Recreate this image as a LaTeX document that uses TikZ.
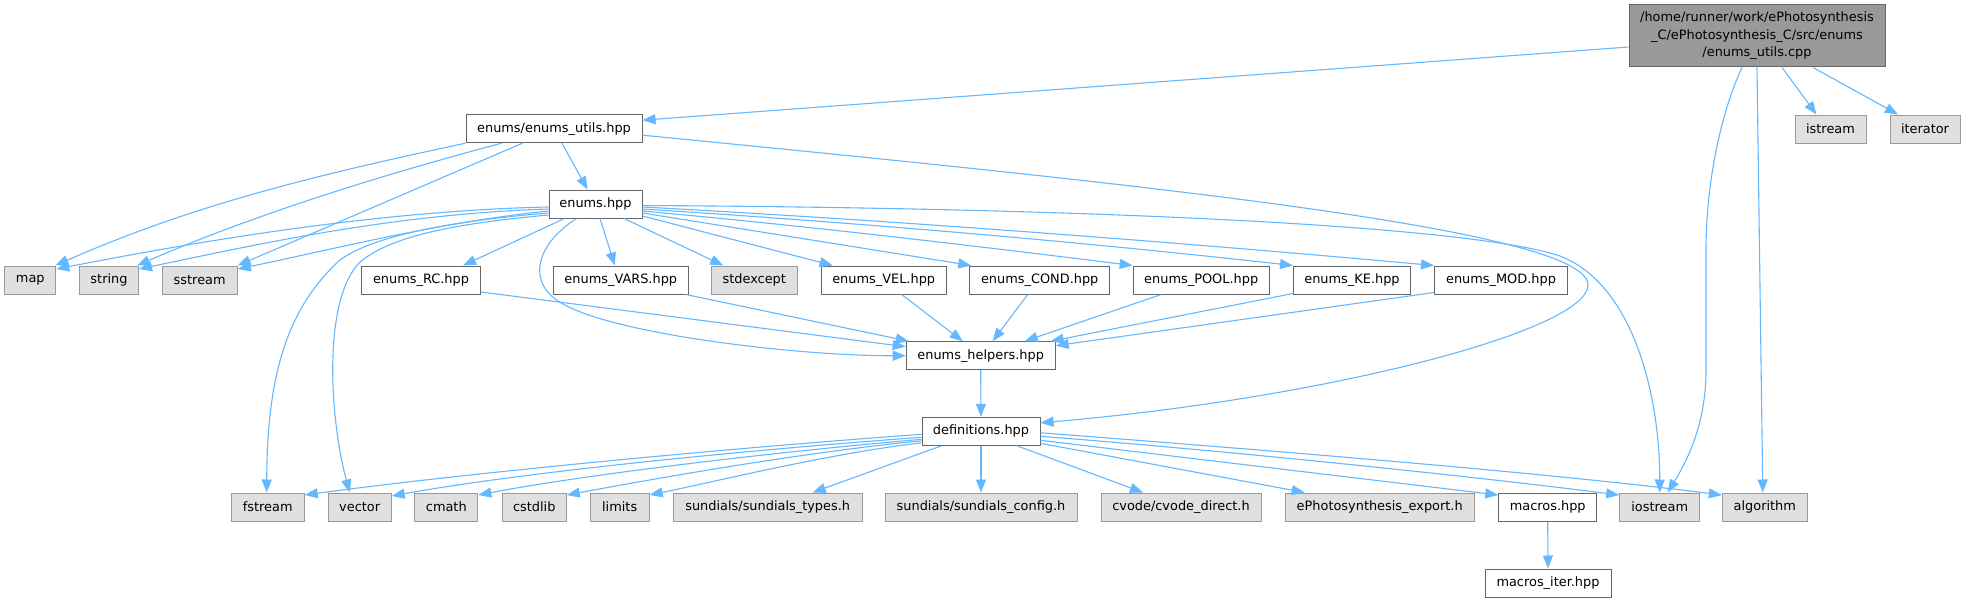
\documentclass[tikz,border=0pt]{standalone}
\usepackage{fontspec}
\setmainfont{DejaVu Sans}
\usetikzlibrary{arrows.meta,calc}
\definecolor{eblue}{HTML}{63B8FF}
\definecolor{gfill}{HTML}{E0E0E0}
\definecolor{gborder}{HTML}{999999}
\definecolor{wborder}{HTML}{666666}
\definecolor{mfill}{HTML}{999999}
\tikzset{
  base/.style={rectangle, inner sep=0pt, minimum height=28pt, line width=1pt,
    font=\fontsize{12.9}{17.5}\selectfont, text=black},
  wbox/.style={base, draw=wborder, fill=white, minimum width=#1},
  gbox/.style={base, draw=gborder, fill=gfill, minimum width=#1},
  mainbox/.style={base, draw=wborder, fill=mfill, minimum width=256pt, minimum height=62pt, align=center},
  dep/.style={draw=eblue, line width=1.1pt, -{Triangle[length=13pt,width=10pt]}}
}
\begin{document}
\begin{tikzpicture}[x=1pt,y=-1pt]
\fill[white] (0,0) rectangle (1965,602);
\useasboundingbox (0,0) rectangle (1965,602);

% nodes
\node[mainbox] (main) at (1757,36) {/home/runner/work/ePhotosynthesis\\\_C/ePhotosynthesis\_C/src/enums\\/enums\_utils.cpp};
\node[wbox=176pt] (utils) at (554,128.7) {enums/enums\_utils.hpp};
\node[gbox=71pt] (istream) at (1830.5,129) {istream};
\node[gbox=70pt] (iterator) at (1925,129) {iterator};
\node[wbox=93pt] (enums) at (595.5,204) {enums.hpp};
\node[gbox=51pt] (map) at (30.3,280) {map};
\node[gbox=59pt] (string) at (109,280) {string};
\node[gbox=75pt] (sstream) at (199.7,280) {sstream};
\node[wbox=119pt] (RC) at (421,280) {enums\_RC.hpp};
\node[wbox=135pt] (VARS) at (620.8,280) {enums\_VARS.hpp};
\node[gbox=86pt] (stdexcept) at (754.3,280) {stdexcept};
\node[wbox=125pt] (VEL) at (883.7,280) {enums\_VEL.hpp};
\node[wbox=140pt] (COND) at (1039.7,280) {enums\_COND.hpp};
\node[wbox=136pt] (POOL) at (1201.2,280) {enums\_POOL.hpp};
\node[wbox=117pt] (KE) at (1352,280) {enums\_KE.hpp};
\node[wbox=133pt] (MOD) at (1501,280) {enums\_MOD.hpp};
\node[wbox=149pt] (helpers) at (980.7,355.7) {enums\_helpers.hpp};
\node[wbox=118pt] (definitions) at (981,431.3) {definitions.hpp};
\node[gbox=73pt] (fstream) at (267.7,507) {fstream};
\node[gbox=63pt] (vector) at (359.7,507) {vector};
\node[gbox=63pt] (cmath) at (446.3,507) {cmath};
\node[gbox=64pt] (cstdlib) at (534.3,507) {cstdlib};
\node[gbox=59pt] (limits) at (619.7,507) {limits};
\node[gbox=189pt] (sundtypes) at (767.7,507) {sundials/sundials\_types.h};
\node[gbox=192pt] (sundconf) at (981,507) {sundials/sundials\_config.h};
\node[gbox=160pt] (cvode) at (1181,507) {cvode/cvode\_direct.h};
\node[gbox=189pt] (export) at (1379.7,507) {ePhotosynthesis\_export.h};
\node[wbox=98pt] (macros) at (1547.7,507) {macros.hpp};
\node[gbox=80pt] (iostream) at (1659.7,507) {iostream};
\node[gbox=85pt] (algorithm) at (1764.8,507) {algorithm};
\node[wbox=126pt] (macrositer) at (1548,583) {macros\_iter.hpp};

% main file
\draw[dep] ($(main.west)+(0,11)$) -- ($(utils.east)+(0,-8.5)$);
\draw[dep] ($(main.south)+(-15,0)$) .. controls (1722,110) and (1706,180) .. (1706,250) -- (1706,370) .. controls (1706,420) and (1690,456) .. ($(iostream.north)+(8,0)$);
\draw[dep] (main.south) -- ($(algorithm.north)+(-2,0)$);
\draw[dep] ($(main.south)+(25,0)$) -- ($(istream.north)+(-14,0)$);
\draw[dep] ($(main.south)+(56,0)$) -- ($(iterator.north)+(-27,0)$);

% enums_utils
\draw[dep] ($(utils.south)+(8,0)$) -- ($(enums.north)+(-8,0)$);
\draw[dep] (utils.south west) .. controls (326,173) and (197,203) .. ($(map.north east)+(-1,0)$);
\draw[dep] ($(utils.south west)+(36,0)$) .. controls (382,175) and (256,214) .. ($(string.north east)+(-2,0)$);
\draw[dep] ($(utils.south west)+(57,0)$) -- (sstream.north east);
\draw[dep] ($(utils.east)+(0,6.5)$) .. controls (1150,185) and (1588,230) .. (1588,285) .. controls (1588,330) and (1330,398) .. ($(definitions.east)+(0,-8.5)$);

% enums.hpp
\draw[dep] ($(enums.west)+(0,3)$) .. controls (360,211) and (160,249) .. ($(map.east)+(0,-11)$);
\draw[dep] ($(enums.west)+(0,5)$) .. controls (390,214) and (250,246) .. ($(string.east)+(0,-11)$);
\draw[dep] ($(enums.west)+(0,7)$) .. controls (440,222) and (330,250) .. ($(sstream.east)+(0,-11)$);
\draw[dep] ($(enums.west)+(0,9)$) .. controls (440,222) and (370,238) .. (340,260) .. controls (285,310) and (267,380) .. ($(fstream.north)+(-1,0)$);
\draw[dep] ($(enums.west)+(0,11)$) .. controls (450,224) and (390,237) .. (360,262) .. controls (322,300) and (330,420) .. ($(vector.north)+(-10,0)$);
\draw[dep] ($(enums.south west)+(16,0)$) -- ($(RC.north)+(42,0)$);
\draw[dep] ($(enums.south)+(4.5,0)$) -- ($(VARS.north)+(-6,0)$);
\draw[dep] ($(enums.south west)+(28,0)$) .. controls (535,245) and (525,285) .. (565,305) .. controls (620,335) and (800,356) .. (helpers.west);
\draw[dep] ($(enums.south)+(28.5,0)$) -- ($(stdexcept.north)+(-31,0)$);
\draw[dep] ($(enums.east)+(0,12)$) -- ($(VEL.north)+(-51,0)$);
\draw[dep] ($(enums.east)+(0,9)$) -- ($(COND.north west)+(2,0)$);
\draw[dep] ($(enums.east)+(0,7)$) .. controls (807,226) and (968,245) .. (POOL.north west);
\draw[dep] ($(enums.east)+(0,5)$) .. controls (862,223) and (1073,241) .. (KE.north west);
\draw[dep] ($(enums.east)+(0,3)$) .. controls (902,221) and (1175,242) .. (MOD.north west);
\draw[dep] ($(enums.east)+(0,1.5)$) .. controls (1100,208) and (1470,226) .. (1560,256) .. controls (1635,285) and (1660,400) .. (iostream.north);

% into enums_helpers
\draw[dep] ($(RC.east)+(0,12)$) -- ($(helpers.west)+(0,-9)$);
\draw[dep] ($(VARS.south east)+(-3,0)$) -- ($(helpers.north west)+(3,0)$);
\draw[dep] ($(VEL.south)+(18,0)$) -- ($(helpers.north)+(-18,0)$);
\draw[dep] ($(COND.south)+(-12,0)$) -- ($(helpers.north)+(12,0)$);
\draw[dep] ($(POOL.south)+(-40,0)$) -- ($(helpers.north)+(44,0)$);
\draw[dep] ($(KE.south west)+(0,-1)$) -- ($(helpers.north east)+(-5,0)$);
\draw[dep] ($(MOD.south west)+(0,-2)$) -- ($(helpers.east)+(0,-10)$);
\draw[dep] (helpers.south) -- (definitions.north);

% definitions.hpp
\draw[dep] ($(definitions.west)+(0,3)$) .. controls (718,449) and (459,474) .. ($(fstream.east)+(0,-12)$);
\draw[dep] ($(definitions.west)+(0,6)$) .. controls (747,450) and (524,472) .. ($(vector.east)+(0,-11)$);
\draw[dep] ($(definitions.west)+(0,8)$) .. controls (775,452) and (589,474) .. ($(cmath.east)+(0,-12)$);
\draw[dep] ($(definitions.west)+(0,9.5)$) .. controls (806,452) and (658,478) .. ($(cstdlib.east)+(0,-12)$);
\draw[dep] ($(definitions.west)+(0,11.5)$) .. controls (832,453) and (718,481) .. ($(limits.east)+(0,-12)$);
\draw[dep] ($(definitions.south west)+(20,0)$) -- ($(sundtypes.north)+(45,0)$);
\draw[dep] (definitions.south) -- (sundconf.north);
\draw[dep] ($(definitions.south)+(36,0)$) -- ($(cvode.north)+(-38,0)$);
\draw[dep] ($(definitions.east)+(0,12)$) -- ($(export.north)+(-75,0)$);
\draw[dep] ($(definitions.east)+(0,9)$) -- ($(macros.west)+(0,-12)$);
\draw[dep] ($(definitions.east)+(0,5)$) .. controls (1230,451) and (1470,476) .. ($(iostream.west)+(0,-12)$);
\draw[dep] ($(definitions.east)+(0,1.5)$) .. controls (1265,450) and (1550,473) .. ($(algorithm.west)+(0,-12)$);

% macros
\draw[dep] (macros.south) -- (macrositer.north);
\end{tikzpicture}
\end{document}
